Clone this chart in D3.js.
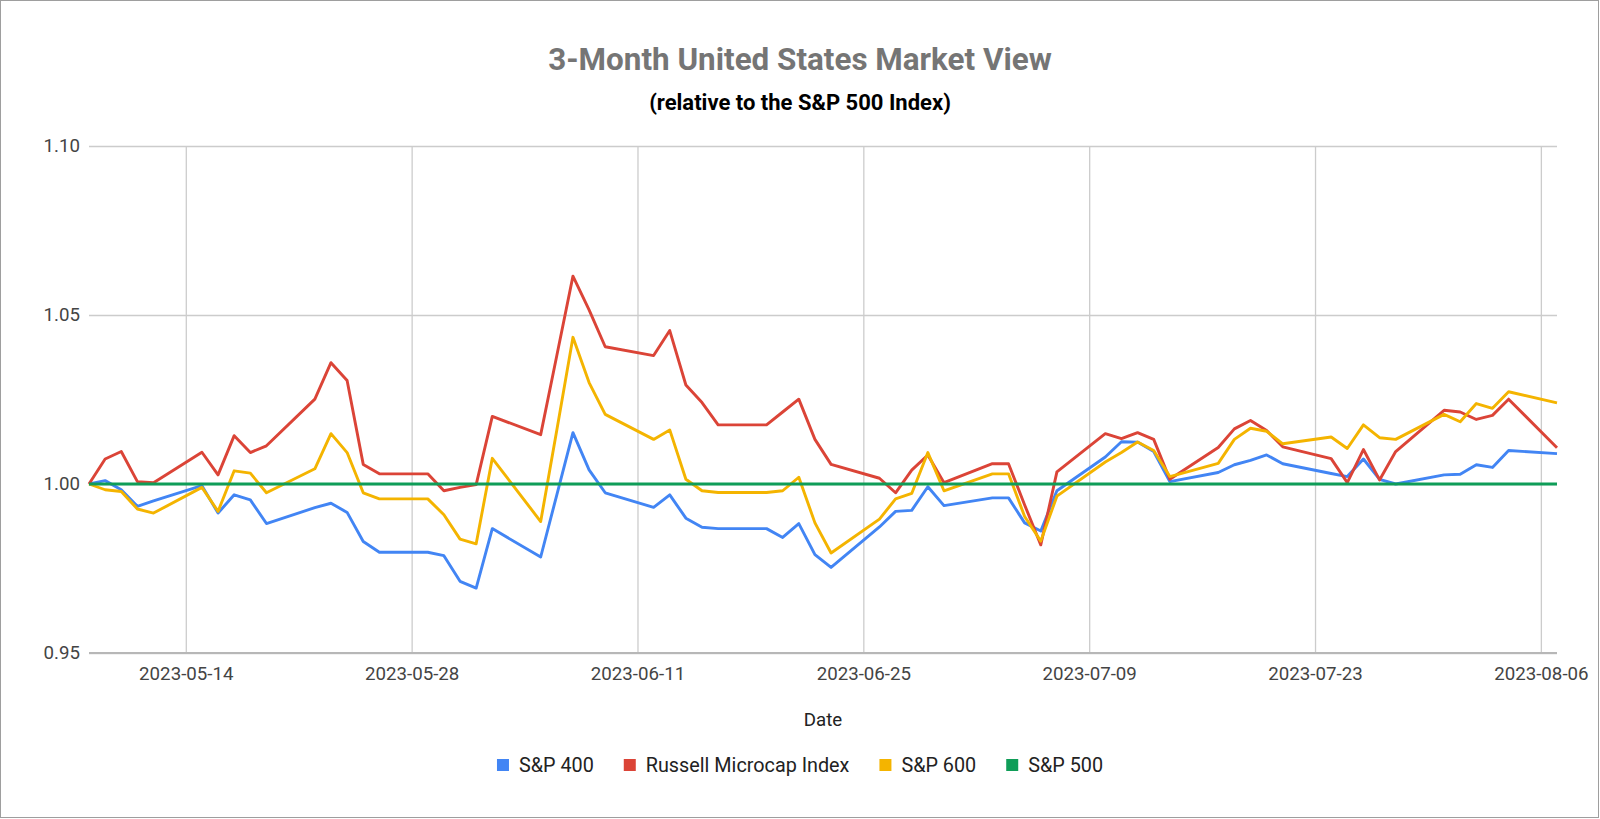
<!DOCTYPE html>
<html>
<head>
<meta charset="utf-8">
<script src="https://cdn.jsdelivr.net/npm/d3@7"></script>
<style>
  body { margin: 0; background: #fff; }
  svg  { display: block; font-family: Roboto, "Noto Sans", sans-serif; }
</style>
</head>
<body>
<svg id="chart" width="1600" height="819"></svg>
<script>
/* trading days, holidays carried forward */
var dates = [
  '2023-05-08','2023-05-09','2023-05-10','2023-05-11','2023-05-12',
  '2023-05-15','2023-05-16','2023-05-17','2023-05-18','2023-05-19',
  '2023-05-22','2023-05-23','2023-05-24','2023-05-25','2023-05-26',
  '2023-05-29','2023-05-30','2023-05-31','2023-06-01','2023-06-02',
  '2023-06-05','2023-06-06','2023-06-07','2023-06-08','2023-06-09',
  '2023-06-12','2023-06-13','2023-06-14','2023-06-15','2023-06-16',
  '2023-06-19','2023-06-20','2023-06-21','2023-06-22','2023-06-23',
  '2023-06-26','2023-06-27','2023-06-28','2023-06-29','2023-06-30',
  '2023-07-03','2023-07-04','2023-07-05','2023-07-06','2023-07-07',
  '2023-07-10','2023-07-11','2023-07-12','2023-07-13','2023-07-14',
  '2023-07-17','2023-07-18','2023-07-19','2023-07-20','2023-07-21',
  '2023-07-24','2023-07-25','2023-07-26','2023-07-27','2023-07-28',
  '2023-07-31','2023-08-01','2023-08-02','2023-08-03','2023-08-04',
  '2023-08-07'
];

var sp400 = [
  1.0000, 1.0010, 0.9983, 0.9934, 0.9950,
  0.9995, 0.9914, 0.9968, 0.9953, 0.9883,
  0.9930, 0.9943, 0.9916, 0.9830, 0.9798,
  0.9798, 0.9788, 0.9712, 0.9692, 0.9868,
  0.9784, 0.9968, 1.0152, 1.0042, 0.9974,
  0.9931, 0.9968, 0.9899, 0.9872, 0.9868,
  0.9868, 0.9842, 0.9883, 0.9791, 0.9753,
  0.9873, 0.9919, 0.9922, 0.9992, 0.9936,
  0.9959, 0.9959, 0.9885, 0.9861, 0.9980,
  1.0080, 1.0125, 1.0124, 1.0096, 1.0007,
  1.0034, 1.0057, 1.0070, 1.0086, 1.0060,
  1.0031, 1.0022, 1.0074, 1.0014, 1.0000,
  1.0027, 1.0029, 1.0057, 1.0049, 1.0099,
  1.0090
];

var russell = [
  1.0000, 1.0074, 1.0096, 1.0007, 1.0004,
  1.0094, 1.0027, 1.0143, 1.0093, 1.0113,
  1.0251, 1.0359, 1.0306, 1.0058, 1.0030,
  1.0030, 0.9980, 0.9990, 0.9998, 1.0200,
  1.0146, 1.0380, 1.0615, 1.0515, 1.0406,
  1.0380, 1.0454, 1.0293, 1.0241, 1.0175,
  1.0175, 1.0213, 1.0251, 1.0132, 1.0058,
  1.0017, 0.9974, 1.0041, 1.0086, 1.0004,
  1.0060, 1.0060, 0.9938, 0.9820, 1.0036,
  1.0149, 1.0134, 1.0152, 1.0132, 1.0014,
  1.0108, 1.0163, 1.0188, 1.0158, 1.0110,
  1.0075, 1.0004, 1.0102, 1.0012, 1.0096,
  1.0218, 1.0213, 1.0191, 1.0203, 1.0251,
  1.0107
];

var sp600 = [
  1.0000, 0.9983, 0.9978, 0.9926, 0.9914,
  0.9990, 0.9919, 1.0039, 1.0032, 0.9974,
  1.0045, 1.0149, 1.0093, 0.9974, 0.9956,
  0.9956, 0.9909, 0.9837, 0.9823, 1.0076,
  0.9889, 1.0160, 1.0434, 1.0300, 1.0206,
  1.0132, 1.0160, 1.0014, 0.9980, 0.9975,
  0.9975, 0.9980, 1.0020, 0.9885, 0.9796,
  0.9896, 0.9956, 0.9972, 1.0093, 0.9980,
  1.0030, 1.0030, 0.9904, 0.9831, 0.9964,
  1.0065, 1.0093, 1.0124, 1.0099, 1.0022,
  1.0061, 1.0132, 1.0165, 1.0156, 1.0119,
  1.0139, 1.0105, 1.0175, 1.0137, 1.0132,
  1.0206, 1.0184, 1.0238, 1.0224, 1.0273,
  1.0240
];

var sp500 = [
  1, 1, 1, 1, 1,  1, 1, 1, 1, 1,  1, 1, 1, 1, 1,
  1, 1, 1, 1, 1,  1, 1, 1, 1, 1,  1, 1, 1, 1, 1,
  1, 1, 1, 1, 1,  1, 1, 1, 1, 1,  1, 1, 1, 1, 1,
  1, 1, 1, 1, 1,  1, 1, 1, 1, 1,  1, 1, 1, 1, 1,
  1, 1, 1, 1, 1,  1
];

var seriesNames  = ['S&P 400', 'Russell Microcap Index', 'S&P 600', 'S&P 500'];
var seriesValues = [sp400, russell, sp600, sp500];
var seriesColors = ['#4285f4', '#db4437', '#f4b400', '#0f9d58'];

var xTickLabels = ['2023-05-14', '2023-05-28', '2023-06-11', '2023-06-25',
                   '2023-07-09', '2023-07-23', '2023-08-06'];
var yTickValues = [0.95, 1.00, 1.05, 1.10];

(function () {
  var svg   = d3.select('#chart'),
      parse = d3.utcParse('%Y-%m-%d'),
      plot  = { left: 89, right: 1557, top: 146, bottom: 653 };

  var x = d3.scaleUtc()
    .domain([parse(dates[0]), parse(dates[dates.length - 1])])
    .range([plot.left, plot.right]);

  var y = d3.scaleLinear()
    .domain([0.95, 1.10])
    .range([plot.bottom, plot.top]);

  /* outer frame */
  svg.append('rect')
    .attr('x', 0.5).attr('y', 0.5)
    .attr('width', 1598).attr('height', 817)
    .attr('fill', '#fff')
    .attr('stroke', '#9e9e9e');

  svg.append('text')
    .attr('x', 800).attr('y', 70)
    .attr('text-anchor', 'middle')
    .attr('font-size', 31.4).attr('font-weight', 'bold')
    .attr('fill', '#757575')
    .text('3-Month United States Market View');

  svg.append('text')
    .attr('x', 800).attr('y', 110)
    .attr('text-anchor', 'middle')
    .attr('font-size', 22).attr('font-weight', 'bold')
    .attr('fill', '#000')
    .text('(relative to the S&P 500 Index)');

  var yAxis = svg.append('g')
    .attr('transform', 'translate(' + plot.left + ',0)')
    .call(d3.axisLeft(y)
      .tickValues(yTickValues)
      .tickSize(-(plot.right - plot.left))
      .tickPadding(9)
      .tickFormat(d3.format('.2f')));

  var xAxis = svg.append('g')
    .attr('transform', 'translate(0,' + plot.bottom + ')')
    .call(d3.axisBottom(x)
      .tickValues(xTickLabels.map(parse))
      .tickSize(-(plot.bottom - plot.top))
      .tickPadding(14)
      .tickFormat(d3.utcFormat('%Y-%m-%d')));

  [yAxis, xAxis].forEach(function (g) {
    g.select('.domain').remove();
    g.selectAll('.tick line')
      .attr('stroke', '#cccccc')
      .attr('stroke-width', 1.3);
    g.selectAll('.tick text')
      .attr('font-family', 'Roboto, sans-serif')
      .attr('font-size', 18.7)
      .attr('fill', '#444');
  });

  /* heavier baseline at the bottom of the plot */
  svg.append('line')
    .attr('x1', plot.left).attr('x2', plot.right)
    .attr('y1', y(0.95)).attr('y2', y(0.95))
    .attr('stroke', '#b7b7b7')
    .attr('stroke-width', 2);

  var line = d3.line()
    .x(function (d, i) { return x(parse(dates[i])); })
    .y(function (d) { return y(d); });

  seriesValues.forEach(function (vals, i) {
    svg.append('path')
      .datum(vals)
      .attr('fill', 'none')
      .attr('stroke', seriesColors[i])
      .attr('stroke-width', i === 3 ? 3.2 : 2.9)
      .attr('stroke-linejoin', 'round')
      .attr('d', line);
  });

  svg.append('text')
    .attr('x', (plot.left + plot.right) / 2).attr('y', 726)
    .attr('text-anchor', 'middle')
    .attr('font-size', 18.7)
    .attr('fill', '#222')
    .text('Date');

  /* legend, laid out from measured text widths and centred */
  var legend = svg.append('g'),
      cursor = 0;

  seriesNames.forEach(function (name, i) {
    var item = legend.append('g').attr('transform', 'translate(' + cursor + ',0)');
    item.append('rect')
      .attr('x', 0).attr('y', -6)
      .attr('width', 12).attr('height', 12)
      .attr('fill', seriesColors[i]);
    var t = item.append('text')
      .attr('x', 22).attr('y', 7)
      .attr('font-size', 19.8)
      .attr('fill', '#222')
      .text(name);
    cursor += 22 + t.node().getComputedTextLength() + 30;
  });
  cursor -= 30;
  legend.attr('transform', 'translate(' + (800 - cursor / 2) + ',765)');
})();
</script>
</body>
</html>
